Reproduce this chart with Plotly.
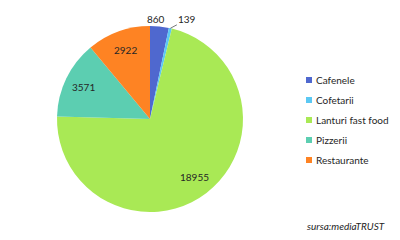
import math
import plotly.graph_objects as go

categories = ["Cafenele", "Cofetarii", "Lanturi fast food", "Pizzerii", "Restaurante"]
values = [860, 139, 18955, 3571, 2922]
colors = ["#4F68CF", "#5BC8F3", "#A9E955", "#5CCEB1", "#FE8323"]
label_modes = ["outside", "leader", "inside", "inside", "inside"]

W, H = 400, 240
dom_x = [57 / W, 243 / W]
dom_y = [28 / H, 214 / H]
FONT = "Lato"
TXT = "#262626"

fig = go.Figure(go.Pie(
    labels=categories,
    values=values,
    sort=False,
    direction="clockwise",
    rotation=0,
    marker=dict(colors=colors, line=dict(width=0)),
    textinfo="none",
    domain=dict(x=dom_x, y=dom_y),
    hoverinfo="label+value",
    showlegend=False,
))

# data labels, positioned from the slice angles
cx = (dom_x[0] + dom_x[1]) / 2
cy = (dom_y[0] + dom_y[1]) / 2
R = min((dom_x[1] - dom_x[0]) * W, (dom_y[1] - dom_y[0]) * H) / 2
total = sum(values)
annotations = []
cum = 0
for v, mode in zip(values, label_modes):
    theta = 2 * math.pi * (cum + v / 2) / total
    cum += v
    base = dict(xref="paper", yref="paper", text=str(v),
                xanchor="center", yanchor="middle",
                font=dict(family=FONT, size=10, color=TXT))
    if mode == "inside":
        r = 0.79 * R
        annotations.append(dict(base,
            x=cx + r * math.sin(theta) / W, y=cy + r * math.cos(theta) / H,
            showarrow=False))
    elif mode == "outside":
        r = R + 8
        annotations.append(dict(base,
            x=cx + r * math.sin(theta) / W - 4 / W, y=cy + r * math.cos(theta) / H,
            showarrow=False))
    else:
        annotations.append(dict(base,
            x=cx + R * math.sin(theta) / W, y=cy + R * math.cos(theta) / H,
            showarrow=True, arrowhead=0, arrowwidth=0.8, arrowcolor="#555",
            ax=17, ay=-9))

# legend
leg_x = 306 / W
leg_y0 = 80
for i, (name, col) in enumerate(zip(categories, colors)):
    yc = 1 - (leg_y0 + 20 * i) / H
    fig.add_shape(type="rect", xref="paper", yref="paper",
                  x0=leg_x, x1=leg_x + 6 / W, y0=yc - 3 / H, y1=yc + 3 / H,
                  fillcolor=col, line=dict(width=0))
    annotations.append(dict(
        x=leg_x + 8 / W, y=yc, xref="paper", yref="paper", text=name,
        xanchor="left", yanchor="middle", showarrow=False,
        font=dict(family=FONT, size=10, color=TXT)))

annotations.append(dict(
    text="<i>sursa:mediaTRUST</i>", x=305 / W, y=1 - 226 / H, xref="paper", yref="paper",
    xanchor="left", yanchor="middle", showarrow=False,
    font=dict(family=FONT, size=10, color=TXT)))

fig.update_layout(
    width=W, height=H,
    margin=dict(l=0, r=0, t=0, b=0),
    paper_bgcolor="white",
    plot_bgcolor="white",
    showlegend=False,
    annotations=annotations,
)

fig.write_html("out.html")
